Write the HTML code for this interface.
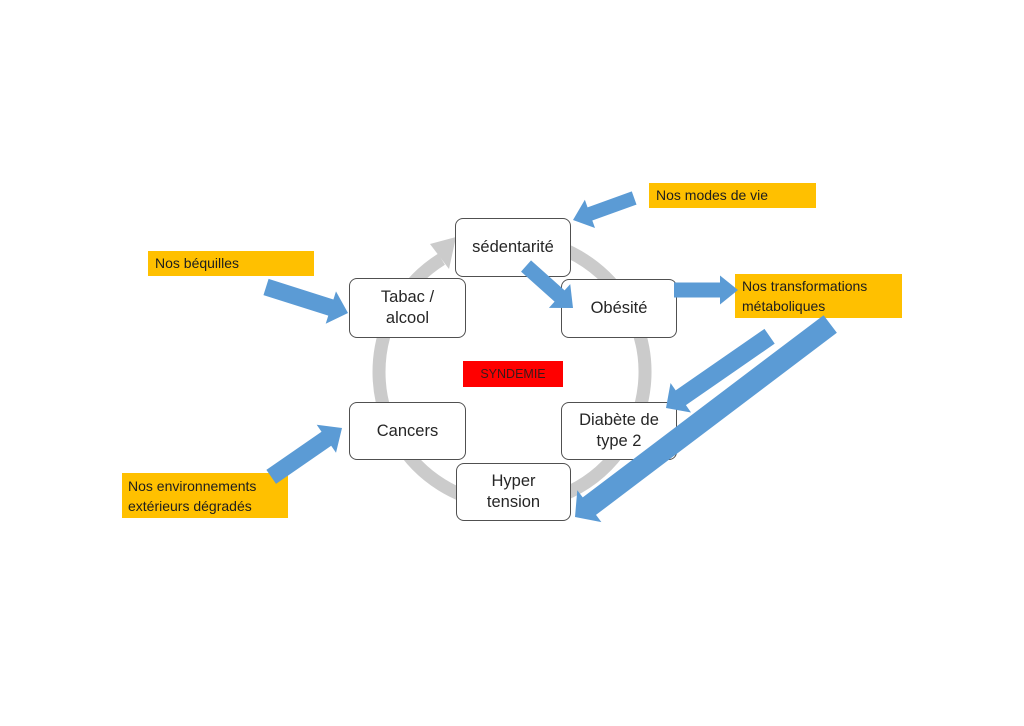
<!DOCTYPE html>
<html>
<head>
<meta charset="utf-8">
<style>
  html,body{margin:0;padding:0;background:#fff;}
  body{width:1024px;height:726px;position:relative;overflow:hidden;font-family:"Liberation Sans",Arial,sans-serif;}
  .box{position:absolute;box-sizing:border-box;background:#fff;border:1.4px solid #505050;border-radius:8px;
       display:flex;align-items:center;justify-content:center;text-align:center;font-size:16.5px;line-height:21px;color:#262626;}
  .or{position:absolute;box-sizing:border-box;background:#ffc000;color:#1e1e1e;font-size:14px;line-height:20px;padding-left:7px;}
  svg{position:absolute;left:0;top:0;}
</style>
</head>
<body>
<svg width="1024" height="726" viewBox="0 0 1024 726">
  <path d="M466.5,247 A133,133 0 1 1 441.5,259.2" fill="none" stroke="#cbcbcb" stroke-width="13"/>
  <polygon points="430,244 456,237 449,269" fill="#cbcbcb"/>
</svg>

<div class="box" style="left:455px;top:218px;width:116px;height:59px;">sédentarité</div>
<div class="box" style="left:349px;top:278px;width:117px;height:60px;">Tabac /<br>alcool</div>
<div class="box" style="left:561px;top:279px;width:116px;height:59px;">Obésité</div>
<div class="box" style="left:349px;top:402px;width:117px;height:58px;">Cancers</div>
<div class="box" style="left:561px;top:402px;width:116px;height:58px;">Diabète de<br>type 2</div>
<div class="box" style="left:456px;top:463px;width:115px;height:58px;">Hyper<br>tension</div>

<div style="position:absolute;left:463px;top:361px;width:100px;height:26px;background:#ff0000;color:#3a1a1a;font-size:12.5px;line-height:26px;text-align:center;">SYNDEMIE</div>

<div class="or" style="left:649px;top:183px;width:167px;height:25px;line-height:25px;">Nos modes de vie</div>
<div class="or" style="left:735px;top:274px;width:167px;height:44px;padding-top:2px;">Nos transformations<br>métaboliques</div>
<div class="or" style="left:148px;top:251px;width:166px;height:25px;line-height:25px;">Nos béquilles</div>
<div class="or" style="left:122px;top:473px;width:166px;height:45px;padding-top:3px;padding-left:6px;">Nos environnements<br>extérieurs dégradés</div>

<svg width="1024" height="726" viewBox="0 0 1024 726">
  <g fill="#5b9bd5">
    <g transform="translate(573,220) rotate(160.2)"><polygon points="-65,-7 -18,-7 -18,-15 0,0 -18,15 -18,7 -65,7"/></g>
    <g transform="translate(573,308) rotate(41.8)"><polygon points="-63,-7.5 -18,-7.5 -18,-16 0,0 -18,16 -18,7.5 -63,7.5"/></g>
    <g transform="translate(738,290) rotate(0)"><polygon points="-64,-7.5 -18,-7.5 -18,-14.5 0,0 -18,14.5 -18,7.5 -64,7.5"/></g>
    <g transform="translate(666,408) rotate(145.3)"><polygon points="-126,-9 -18,-9 -18,-18 0,0 -18,18 -18,9 -126,9"/></g>
    <g transform="translate(575,517) rotate(142.9)"><polygon points="-320,-11 -18,-11 -18,-20 0,0 -18,20 -18,11 -320,11"/></g>
    <g transform="translate(348,313) rotate(17.6)"><polygon points="-86,-8.5 -18,-8.5 -18,-17 0,0 -18,17 -18,8.5 -86,8.5"/></g>
    <g transform="translate(342,428) rotate(-34.6)"><polygon points="-86,-8.5 -19,-8.5 -19,-17 0,0 -19,17 -19,8.5 -86,8.5"/></g>
  </g>
</svg>
</body>
</html>
